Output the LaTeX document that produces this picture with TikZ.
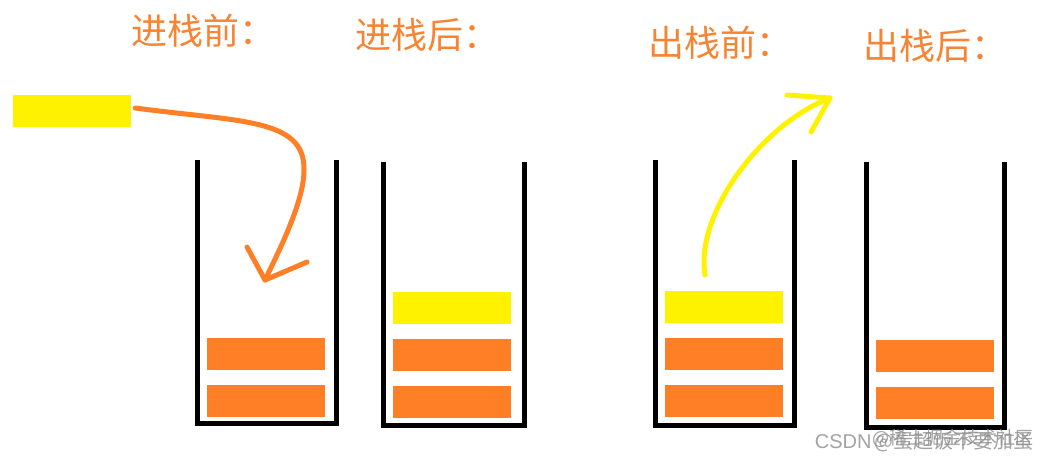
\documentclass[tikz,border=0pt]{standalone}
\usepackage{fontspec}
\newfontfamily\cjk{Noto Sans CJK SC}
\setsansfont{Liberation Sans}
\usetikzlibrary{positioning}
\definecolor{barorange}{RGB}{255,127,39}
\definecolor{baryellow}{RGB}{255,242,0}
\definecolor{labelorange}{RGB}{246,132,50}
\begin{document}
\begin{tikzpicture}[x=1pt, y=-1pt,
    bar/.style={rectangle, fill=barorange, minimum width=118pt, minimum height=32pt, inner sep=0pt},
    newbar/.style={bar, fill=baryellow},
    wall/.style={line width=5pt, black},
    title/.style={text=labelorange, font=\cjk\fontsize{36}{36}\selectfont, anchor=west, inner sep=0pt},
    curve/.style={line width=5pt, line cap=round, line join=round},
    watermark/.style={text=black!45, opacity=0.8, anchor=east, inner sep=0pt}]
    %\draw[step=50pt, gray, very thin] (0,0) grid (1051,466);
    \useasboundingbox (0,0) rectangle (1051,466);

    \node[title] (t1) at (131, 31) {进栈前：};
    \node[title] (t2) at (355, 35) {进栈后：};
    \node[title] (t3) at (648, 43) {出栈前：};
    \node[title] (t4) at (863, 46) {出栈后：};

    % stacks
    \draw[wall] (197, 160) -- (197, 423) -- (336, 423) -- (336, 160);
    \draw[wall] (383, 162) -- (383, 425) -- (524, 425) -- (524, 162);
    \draw[wall] (655, 160) -- (655, 425) -- (794, 425) -- (794, 160);
    \draw[wall] (866, 162) -- (866, 427) -- (1004, 427) -- (1004, 162);

    \node[newbar] (push) at (72, 111) {};

    \node[bar] (s1b2) at (266, 354) {};
    \node[bar] (s1b1) at (266, 400.5) {};

    \node[newbar] (s2b3) at (451.5, 308) {};
    \node[bar] (s2b2) at (451.5, 355) {};
    \node[bar] (s2b1) at (451.5, 401.5) {};

    \node[newbar] (s3b3) at (724, 307) {};
    \node[bar] (s3b2) at (724, 354) {};
    \node[bar] (s3b1) at (724, 400.5) {};

    \node[bar] (s4b2) at (935, 356) {};
    \node[bar] (s4b1) at (935, 402.5) {};

    % push arrow
    \coordinate (pushtip) at (265, 280);
    \draw[curve, barorange] ([xshift=4pt, yshift=3pt]push.east) .. controls (240, 122) and (305, 118) .. (304, 170)
        .. controls (304, 200) and (282, 245) .. (pushtip);
    \draw[curve, barorange] (247, 247) -- (pushtip) -- (307, 262);

    % pop arrow
    \coordinate (popfoot) at (705, 275);
    \coordinate (poptip) at (830, 98);
    \draw[curve, baryellow] (popfoot) .. controls (695, 215) and (760, 125) .. (poptip);
    \draw[curve, baryellow] (787, 95) -- (poptip) -- (811, 132);

    \node[watermark, font=\cjk\fontsize{18}{18}\selectfont] (wm2) at (1034, 438) {@稀土掘金技术社区};
    \node[watermark, font=\fontsize{20}{20}\selectfont] (wm1) at (1034, 442) {\sffamily CSDN\,{\cjk @蛋超饭不要加蛋}};
\end{tikzpicture}
\end{document}
